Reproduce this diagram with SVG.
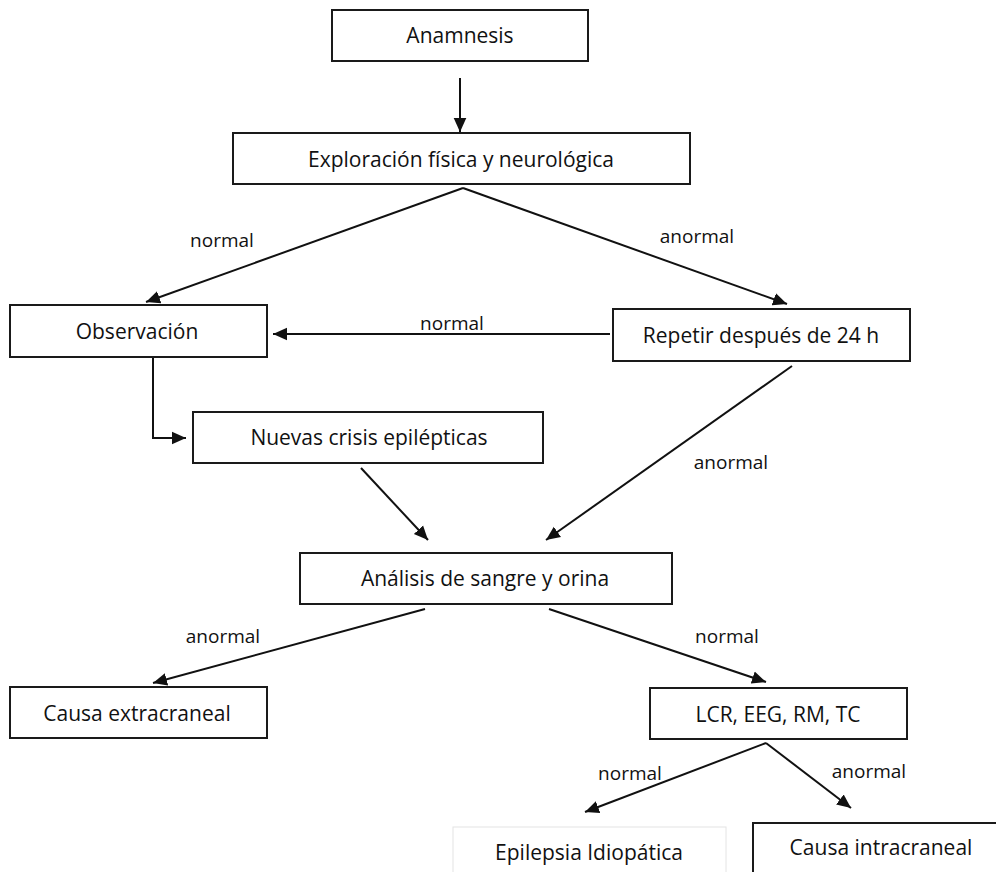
<svg xmlns="http://www.w3.org/2000/svg" width="996" height="872" viewBox="0 0 996 872">
<style>
.box{fill:#fff;stroke:#1a1a1a;stroke-width:2}
.t{font-family:"Open Sans","Liberation Sans",sans-serif;font-size:21px;fill:#111;text-anchor:middle;dominant-baseline:central}
.l{font-family:"Open Sans","Liberation Sans",sans-serif;font-size:19px;fill:#111;text-anchor:middle;dominant-baseline:central}
.c{fill:none;stroke:#111;stroke-width:2}
</style>
<defs>
<marker id="ah" viewBox="0 0 10 10" refX="10" refY="5" markerWidth="7" markerHeight="7" orient="auto" markerUnits="strokeWidth">
<path d="M0,0.5 L10,5 L0,9.5 Z" fill="#111"/>
</marker>
</defs>
<rect width="996" height="872" fill="#fff"/>
<g id="connectors">
<line class="c" x1="460" y1="78" x2="460" y2="132" marker-end="url(#ah)"/>
<line class="c" x1="463" y1="188" x2="146" y2="302" marker-end="url(#ah)"/>
<line class="c" x1="463" y1="188" x2="787" y2="304" marker-end="url(#ah)"/>
<line class="c" x1="610" y1="334" x2="273" y2="334" marker-end="url(#ah)"/>
<path class="c" d="M121,357 H153 V438 H186" marker-end="url(#ah)"/>
<line class="c" x1="792" y1="366" x2="546" y2="540" marker-end="url(#ah)"/>
<line class="c" x1="361" y1="468" x2="428" y2="540" marker-end="url(#ah)"/>
<line class="c" x1="425" y1="609" x2="153" y2="683" marker-end="url(#ah)"/>
<line class="c" x1="549" y1="609" x2="766" y2="682" marker-end="url(#ah)"/>
<line class="c" x1="766" y1="743" x2="585" y2="812" marker-end="url(#ah)"/>
<line class="c" x1="766" y1="743" x2="851" y2="808" marker-end="url(#ah)"/>
<text class="l" x="222" y="240">normal</text>
<text class="l" x="697" y="236">anormal</text>
<text class="l" x="452" y="323">normal</text>
<text class="l" x="731" y="462">anormal</text>
<text class="l" x="223" y="636">anormal</text>
<text class="l" x="727" y="636">normal</text>
<text class="l" x="630" y="773">normal</text>
<text class="l" x="869" y="771">anormal</text>
</g>
<g id="anamnesis"><rect class="box" x="332" y="10" width="256" height="51"/><text class="t" x="460" y="35">Anamnesis</text></g>
<g id="exploracion"><rect class="box" x="233" y="133" width="457" height="51"/><text class="t" x="461" y="159">Exploración física y neurológica</text></g>
<g id="observacion"><rect class="box" x="10" y="305" width="257" height="52"/><text class="t" x="137" y="331">Observación</text></g>
<g id="repetir"><rect class="box" x="613" y="309" width="297" height="52"/><text class="t" x="761" y="335">Repetir después de 24 h</text></g>
<g id="nuevas"><rect class="box" x="193" y="412" width="350" height="51"/><text class="t" x="369" y="437">Nuevas crisis epilépticas</text></g>
<g id="analisis"><rect class="box" x="300" y="553" width="372" height="51"/><text class="t" x="485" y="578">Análisis de sangre y orina</text></g>
<g id="extracraneal"><rect class="box" x="10" y="687" width="257" height="51"/><text class="t" x="137" y="713">Causa extracraneal</text></g>
<g id="lcr"><rect class="box" x="650" y="688" width="257" height="51"/><text class="t" x="778" y="714">LCR, EEG, RM, TC</text></g>
<g id="idiopatica"><rect x="453" y="827" width="273" height="60" fill="#fff" stroke="#e4e4e4" stroke-width="1"/><text class="t" x="589" y="852">Epilepsia Idiopática</text></g>
<g id="intracraneal"><rect class="box" x="753" y="823" width="260" height="60"/><text class="t" x="881" y="847">Causa intracraneal</text></g>
</svg>
